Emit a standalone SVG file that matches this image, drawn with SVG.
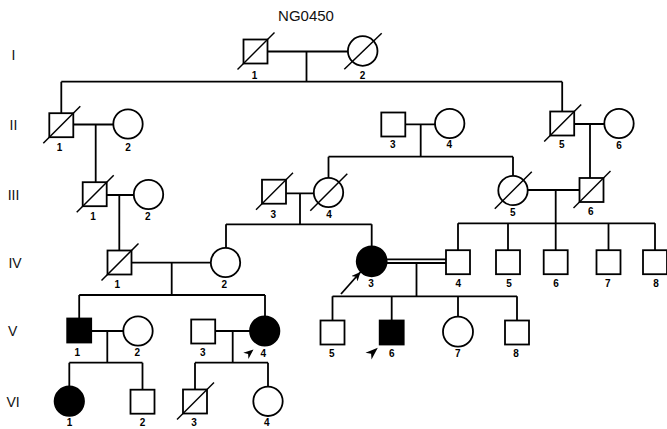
<svg xmlns="http://www.w3.org/2000/svg" width="667" height="429" viewBox="0 0 667 429">
<style>
.s{fill:#fff;stroke:#000;stroke-width:1.8}
.f{fill:#000;stroke:#000;stroke-width:1.8}
.d{stroke:#000;stroke-width:1.5}
.ln{fill:none;stroke:#000;stroke-width:1.8}
.lb{font-family:"Liberation Sans",Arial,sans-serif;font-size:10px;font-weight:bold;text-anchor:middle;fill:#000}
.gen{font-family:"Liberation Sans",Arial,sans-serif;font-size:14px;text-anchor:middle;fill:#111}
.title{font-family:"Liberation Sans",Arial,sans-serif;font-size:15px;text-anchor:middle;fill:#111}
.ptr{fill:#000}
</style>
<defs>
<marker id="ah" markerUnits="userSpaceOnUse" markerWidth="10" markerHeight="8" refX="9" refY="4" orient="auto">
<path d="M0,0 L9,4 L0,8 L2.5,4 Z" fill="#000"/>
</marker>
</defs>
<rect width="667" height="429" fill="#fff"/>
<text class="title" x="306" y="20.5">NG0450</text>
<g id="generations">
<text class="gen" x="13.5" y="60">I</text>
<text class="gen" x="13.5" y="130">II</text>
<text class="gen" x="13.5" y="200">III</text>
<text class="gen" x="15" y="268">IV</text>
<text class="gen" x="12.7" y="336">V</text>
<text class="gen" x="13" y="407">VI</text>
</g>
<g id="connectors">
<path class="ln" d="M267.5 51.5H348 M306.5 51.5V81.7 M61.3 81.7H562.2 M61.3 81.7V113.2 M562.2 81.7V111.5"/>
<path class="ln" d="M73.3 124.5H113.3 M95.7 124.5V182.2 M405.3 124.3H435 M420.7 124.3V156.7 M328.5 156.7H513 M328.5 156.7V177.8 M513 156.7V175.8 M574.2 124H604.3 M590 124V178"/>
<path class="ln" d="M106.7 195H133.8 M119.3 195V250.5 M286 193.3H313.8 M300 193.3V224.3 M226 224.3H371.7 M226 224.3V247.8 M371.7 224.3V246.3 M527.7 190H579.5 M555.7 190V223.3 M458 223.3H655 M458 223.3V250.2 M508 223.3V250.2 M555.7 223.3V250.2 M608.5 223.3V250.2 M655 223.3V250.2"/>
<path class="ln" d="M131.5 262.7H210.8 M171.7 262.7V295 M79.2 295H265 M79.2 295V318.5 M265 295V316.3 M386.5 259.4H446 M386.5 263H446 M416.5 263V296.3 M332.5 296.3H517 M332.5 296.3V320.5 M391.7 296.3V320.5 M458 296.3V316.7 M517 296.3V320.5"/>
<path class="ln" d="M91.2 331H123.3 M107.3 331V362.7 M69.3 362.7H142.5 M69.3 362.7V386.5 M142.5 362.7V389.7 M215.2 331H250 M232.7 331V362.7 M195 362.7H268 M195 362.7V389.5 M268 362.7V386.6"/>
<line class="ln" x1="341" y1="294" x2="360.5" y2="272" marker-end="url(#ah)"/>
<polygon class="ptr" transform="translate(253.5,349.5) rotate(-40)" points="0,0 -10,-4 -7,0 -10,4"/>
<polygon class="ptr" transform="translate(377.8,347.8) rotate(-42)" points="0,0 -12.5,-4.5 -9,0 -12.5,4.5"/>
</g>
<g id="I-1"><rect class="s" x="243.5" y="39.5" width="24" height="24"/><line class="d" x1="237.5" y1="69.5" x2="274.5" y2="32.5"/><text class="lb" x="254.5" y="79">1</text></g>
<g id="I-2"><circle class="s" cx="362.7" cy="51" r="14.8"/><line class="d" x1="344.3" y1="69.3" x2="381.7" y2="33.3"/><text class="lb" x="362.5" y="79">2</text></g>
<g id="II-1"><rect class="s" x="49.3" y="113.2" width="24" height="24"/><line class="d" x1="43.3" y1="143.2" x2="80.3" y2="106.2"/><text class="lb" x="59.5" y="150.5">1</text></g>
<g id="II-2"><circle class="s" cx="128" cy="124" r="14.7"/><text class="lb" x="128" y="150.5">2</text></g>
<g id="II-3"><rect class="s" x="381.3" y="112.5" width="24" height="24"/><text class="lb" x="392.7" y="148">3</text></g>
<g id="II-4"><circle class="s" cx="449.7" cy="123.5" r="14.7"/><text class="lb" x="449.3" y="148">4</text></g>
<g id="II-5"><rect class="s" x="550.2" y="111.5" width="24" height="24"/><line class="d" x1="544.2" y1="141.5" x2="581.2" y2="104.5"/><text class="lb" x="561.7" y="148">5</text></g>
<g id="II-6"><circle class="s" cx="619" cy="123.5" r="14.7"/><text class="lb" x="619" y="148.5">6</text></g>
<g id="III-1"><rect class="s" x="82.7" y="182.2" width="24" height="24"/><line class="d" x1="76.7" y1="212.2" x2="113.7" y2="175.2"/><text class="lb" x="93" y="220">1</text></g>
<g id="III-2"><circle class="s" cx="148.5" cy="194.5" r="14.7"/><text class="lb" x="147.7" y="220">2</text></g>
<g id="III-3"><rect class="s" x="262" y="179.7" width="24" height="24"/><line class="d" x1="256" y1="209.7" x2="293" y2="172.7"/><text class="lb" x="273.3" y="217.5">3</text></g>
<g id="III-4"><circle class="s" cx="328.5" cy="192.5" r="14.7"/><line class="d" x1="310.3" y1="210.7" x2="347.3" y2="173.7"/><text class="lb" x="329" y="218">4</text></g>
<g id="III-5"><circle class="s" cx="513" cy="190.5" r="14.7"/><line class="d" x1="494.8" y1="208.7" x2="531.8" y2="171.7"/><text class="lb" x="512.7" y="216">5</text></g>
<g id="III-6"><rect class="s" x="579.5" y="178" width="24" height="24"/><line class="d" x1="573.5" y1="208" x2="610.5" y2="171"/><text class="lb" x="590.7" y="214.5">6</text></g>
<g id="IV-1"><rect class="s" x="107.5" y="250.5" width="24" height="24"/><line class="d" x1="101.5" y1="280.5" x2="138.5" y2="243.5"/><text class="lb" x="117.3" y="287.5">1</text></g>
<g id="IV-2"><circle class="s" cx="225.5" cy="262.5" r="14.7"/><text class="lb" x="224.3" y="287.5">2</text></g>
<g id="IV-3"><circle class="f" cx="371.7" cy="261.3" r="15"/><text class="lb" x="371" y="287">3</text></g>
<g id="IV-4"><rect class="s" x="446" y="250.2" width="24" height="24"/><text class="lb" x="458.3" y="287">4</text></g>
<g id="IV-5"><rect class="s" x="496" y="250.2" width="24" height="24"/><text class="lb" x="509" y="287">5</text></g>
<g id="IV-6"><rect class="s" x="543.7" y="250.2" width="24" height="24"/><text class="lb" x="556" y="287">6</text></g>
<g id="IV-7"><rect class="s" x="596.5" y="250.2" width="24" height="24"/><text class="lb" x="607.7" y="287">7</text></g>
<g id="IV-8"><rect class="s" x="643" y="250.2" width="24" height="24"/><text class="lb" x="656" y="287">8</text></g>
<g id="V-1"><rect class="f" x="67.2" y="318.5" width="24" height="24"/><text class="lb" x="77.3" y="356">1</text></g>
<g id="V-2"><circle class="s" cx="138" cy="331" r="14.7"/><text class="lb" x="137.3" y="356">2</text></g>
<g id="V-3"><rect class="s" x="191.2" y="319.5" width="24" height="24"/><text class="lb" x="202.7" y="356">3</text></g>
<g id="V-4"><circle class="f" cx="264.7" cy="331" r="14.7"/><text class="lb" x="263.3" y="356.5">4</text></g>
<g id="V-5"><rect class="s" x="320.5" y="320.5" width="24" height="24"/><text class="lb" x="331.7" y="357">5</text></g>
<g id="V-6"><rect class="f" x="379.7" y="320.5" width="24" height="24"/><text class="lb" x="391.7" y="357">6</text></g>
<g id="V-7"><circle class="s" cx="458" cy="331.7" r="15"/><text class="lb" x="457.7" y="357">7</text></g>
<g id="V-8"><rect class="s" x="505" y="320.5" width="24" height="24"/><text class="lb" x="516" y="357">8</text></g>
<g id="VI-1"><circle class="f" cx="69.3" cy="401.2" r="14.7"/><text class="lb" x="69.5" y="426">1</text></g>
<g id="VI-2"><rect class="s" x="130.5" y="389.7" width="24" height="24"/><text class="lb" x="142.5" y="426">2</text></g>
<g id="VI-3"><rect class="s" x="183" y="389.5" width="24" height="24"/><line class="d" x1="177" y1="419.5" x2="214" y2="382.5"/><text class="lb" x="194" y="426">3</text></g>
<g id="VI-4"><circle class="s" cx="268" cy="401.3" r="14.7"/><text class="lb" x="266.7" y="426">4</text></g>
</svg>
